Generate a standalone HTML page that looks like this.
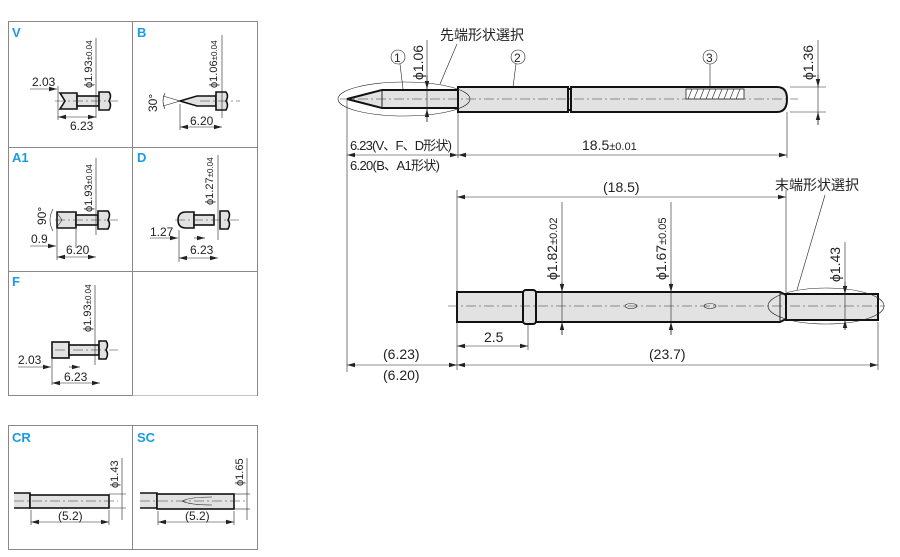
<!DOCTYPE html>
<html><head><meta charset="utf-8"><style>
body{margin:0;background:#fff}
svg{display:block;font-family:"Liberation Sans Narrow","Liberation Sans","Noto Sans CJK JP",sans-serif}
.l{stroke:#222;stroke-width:1;fill:none}
.t{stroke:#222;stroke-width:.6;fill:none}
.p{fill:#e2e2e2;stroke:#111;stroke-width:1.6}
.q{fill:#e2e2e2;stroke:#111;stroke-width:2}
.c{stroke:#333;stroke-width:.6;stroke-dasharray:10 3 2 3;fill:none}
text{fill:#222}
.h{fill:#1a9be0;font-weight:bold;font-size:13px;font-family:"Liberation Sans",sans-serif}
</style></head><body>
<svg width="900" height="557" viewBox="0 0 900 557" xmlns="http://www.w3.org/2000/svg">
<defs><marker id="a" markerWidth="8" markerHeight="6" refX="8" refY="3" orient="auto-start-reverse" markerUnits="userSpaceOnUse"><path d="M0,0.8L8,3L0,5.2z" fill="#222"/></marker></defs>
<g stroke="#888" fill="none" stroke-width="1">
<rect x="8.5" y="21.5" width="249" height="374"/>
<line x1="132.5" y1="21" x2="132.5" y2="272"/>
<line x1="8" y1="147.5" x2="257" y2="147.5"/>
<line x1="8" y1="271.5" x2="257" y2="271.5"/>
<line x1="132.5" y1="272" x2="132.5" y2="396"/>
<rect x="8.5" y="425.5" width="249" height="124"/>
<line x1="132.5" y1="425" x2="132.5" y2="550"/>
</g>
<g fill="#fff" stroke="none"><rect x="133" y="272.5" width="124" height="123"/></g>
<text class="h" x="12" y="37">V</text><text class="h" x="137" y="37">B</text>
<text class="h" x="12" y="162">A1</text><text class="h" x="137" y="162">D</text>
<text class="h" x="12" y="286">F</text>
<text class="h" x="12" y="442">CR</text><text class="h" x="137" y="442">SC</text>

<g>
<path class="p" d="M60,93 L77,93 L77,109 L60,109 L65,101 Z"/>
<rect class="p" x="77" y="96" width="22" height="10"/>
<path class="p" d="M99,92 h10 q3,4 0,9 q3,4 0,9 h-10z"/>
<line class="c" x1="55" y1="101" x2="118" y2="101"/>
<line class="t" x1="96" y1="38" x2="96" y2="118"/>
<line class="t" x1="30" y1="89" x2="57" y2="89" marker-end="url(#a)"/>
<line class="t" x1="58" y1="86" x2="58" y2="120"/>
<line class="t" x1="58" y1="117" x2="96" y2="117" marker-start="url(#a)" marker-end="url(#a)"/>
<text x="32" y="86" font-size="12">2.03</text>
<text x="70" y="130" font-size="12">6.23</text>
<text font-size="11" transform="translate(92,88) rotate(-90)">ϕ1.93<tspan font-size="8">±0.04</tspan></text>
</g>
<g>
<path class="p" d="M180,101 L197,96 L216,96 L216,106 L197,106 Z"/>
<path class="p" d="M216,92 h10 q3,4 0,9 q3,4 0,9 h-10z"/>
<line class="c" x1="200" y1="101" x2="240" y2="101"/>
<line class="t" x1="222" y1="35" x2="222" y2="118"/>
<path class="t" d="M163,96 L180,101 L163,106 M165,93 q-4,8 0,16"/>
<line class="t" x1="180" y1="104" x2="180" y2="130"/>
<line class="t" x1="180" y1="127" x2="222" y2="127" marker-start="url(#a)" marker-end="url(#a)"/>
<text x="190" y="125" font-size="12">6.20</text>
<text font-size="12" transform="translate(157,112) rotate(-90)">30°</text>
<text font-size="11" transform="translate(217,88) rotate(-90)">ϕ1.06<tspan font-size="8">±0.04</tspan></text>
</g>
<g>
<path class="p" d="M57,212 L76,212 L76,228 L57,228 Z"/>
<rect class="p" x="76" y="215" width="22" height="10"/>
<path class="p" d="M98,211 h10 q3,4 0,9 q3,4 0,9 h-10z"/>
<path class="t" d="M57,213 L62,220 L57,227 M53,209 q-6,11 0,22"/>
<line class="c" x1="55" y1="220" x2="118" y2="220"/>
<line class="t" x1="96" y1="158" x2="96" y2="235"/>
<line class="t" x1="30" y1="246" x2="56" y2="246" marker-end="url(#a)"/>
<line class="t" x1="57" y1="229" x2="57" y2="260"/>
<line class="t" x1="76" y1="229" x2="76" y2="248"/>
<line class="t" x1="57" y1="257" x2="96" y2="257" marker-start="url(#a)" marker-end="url(#a)"/>
<text x="31" y="243" font-size="12">0.9</text>
<text x="66" y="254" font-size="12">6.20</text>
<text font-size="12" transform="translate(46,225) rotate(-90)">90°</text>
<text font-size="11" transform="translate(92,212) rotate(-90)">ϕ1.93<tspan font-size="8">±0.04</tspan></text>
</g>
<g>
<path class="p" d="M186,212 L194,212 L194,228 L186,228 Q178,228 178,220 Q178,212 186,212Z"/>
<rect class="p" x="194" y="215" width="20" height="10"/>
<path class="p" d="M220,211 h8 q3,4 0,9 q3,4 0,9 h-8z"/>
<line class="c" x1="175" y1="220" x2="240" y2="220"/>
<line class="t" x1="218" y1="155" x2="218" y2="240"/>
<line class="t" x1="150" y1="238" x2="178" y2="238" marker-end="url(#a)"/>
<line class="t" x1="179" y1="230" x2="179" y2="262"/>
<line class="t" x1="194" y1="238" x2="205" y2="238" marker-end="url(#a)"/>
<line class="t" x1="179" y1="258" x2="218" y2="258" marker-start="url(#a)" marker-end="url(#a)"/>
<text x="150" y="236" font-size="12">1.27</text>
<text x="190" y="254" font-size="12">6.23</text>
<text font-size="11" transform="translate(213,205) rotate(-90)">ϕ1.27<tspan font-size="8">±0.04</tspan></text>
</g>
<g>
<rect class="p" x="52" y="342" width="17" height="16"/>
<rect class="p" x="69" y="345" width="30" height="10"/>
<path class="p" d="M99,341 h7 q3,4 0,9 q3,4 0,9 h-7z"/>
<line class="c" x1="55" y1="350" x2="118" y2="350"/>
<line class="t" x1="95" y1="285" x2="95" y2="365"/>
<line class="t" x1="18" y1="367" x2="51" y2="367" marker-end="url(#a)"/>
<line class="t" x1="52" y1="359" x2="52" y2="385"/>
<line class="t" x1="69" y1="367" x2="80" y2="367" marker-end="url(#a)"/>
<line class="t" x1="52" y1="383" x2="100" y2="383" marker-start="url(#a)" marker-end="url(#a)"/>
<text x="18" y="364" font-size="12">2.03</text>
<text x="64" y="381" font-size="12">6.23</text>
<text font-size="11" transform="translate(91,332) rotate(-90)">ϕ1.93<tspan font-size="8">±0.04</tspan></text>
</g>
<g>
<path class="p" d="M14,493 h16 v15 h-16"/>
<rect class="p" x="30" y="495" width="79" height="13"/>
<line class="c" x1="14" y1="501" x2="118" y2="501"/>
<line class="t" x1="122" y1="458" x2="122" y2="520"/>
<line class="t" x1="109" y1="494" x2="126" y2="494"/><line class="t" x1="109" y1="508" x2="126" y2="508"/>
<line class="t" x1="31" y1="510" x2="31" y2="525"/><line class="t" x1="109" y1="510" x2="109" y2="525"/>
<line class="t" x1="31" y1="522" x2="109" y2="522" marker-start="url(#a)" marker-end="url(#a)"/>
<text x="58" y="520" font-size="12">(5.2)</text>
<text font-size="11" transform="translate(118,488) rotate(-90)">ϕ1.43</text>
</g>
<g>
<path class="p" d="M140,493 h17 v15 h-17"/>
<rect class="p" x="157" y="494" width="77" height="15"/>
<path class="t" d="M182,501 Q190,497 212,497 M182,501 Q190,505 212,505"/>
<line class="c" x1="140" y1="501" x2="245" y2="501"/>
<line class="t" x1="247" y1="458" x2="247" y2="520"/>
<line class="t" x1="234" y1="494" x2="250" y2="494"/><line class="t" x1="234" y1="509" x2="250" y2="509"/>
<line class="t" x1="158" y1="511" x2="158" y2="525"/><line class="t" x1="234" y1="511" x2="234" y2="525"/>
<line class="t" x1="158" y1="522" x2="234" y2="522" marker-start="url(#a)" marker-end="url(#a)"/>
<text x="185" y="520" font-size="12">(5.2)</text>
<text font-size="11" transform="translate(243,486) rotate(-90)">ϕ1.65</text>
</g>

<g>
<path class="q" d="M347,99 L382,90 L458,90 L458,108 L382,108 Z"/>
<line class="l" x1="382" y1="90" x2="382" y2="108"/>
<rect class="q" x="458" y="87" width="110" height="25"/>
<rect class="q" x="568" y="89" width="3" height="21"/>
<path class="q" d="M571,87 L777,87 Q787,87 787,99 Q787,112 777,112 L571,112 Z"/>
<rect x="686" y="89" width="58" height="10" fill="#fff" stroke="#222" stroke-width=".8"/>
<path class="t" d="M688,99 l4,-10 M694,99 l4,-10 M700,99 l4,-10 M706,99 l4,-10 M712,99 l4,-10 M718,99 l4,-10 M724,99 l4,-10 M730,99 l4,-10 M736,99 l4,-10" stroke-width="1"/>
<line class="c" x1="340" y1="99" x2="798" y2="99"/>
<ellipse class="t" cx="404" cy="99" rx="66" ry="17"/>
<line class="t" x1="427" y1="40" x2="427" y2="122"/>
<line class="t" x1="427" y1="75" x2="427" y2="89" marker-end="url(#a)"/>
<line class="t" x1="427" y1="122" x2="427" y2="109" marker-end="url(#a)"/>
<text font-size="14" transform="translate(423,80) rotate(-90)">ϕ1.06</text>
<text x="440" y="40" font-size="14">先端形状選択</text>
<line class="t" x1="457" y1="44" x2="440" y2="84"/>
<circle class="t" cx="398" cy="57" r="7"/><text x="394" y="62" font-size="12">1</text>
<line class="t" x1="400" y1="64" x2="403" y2="89"/>
<circle class="t" cx="518" cy="57" r="7"/><text x="514" y="62" font-size="12">2</text>
<line class="t" x1="516" y1="64" x2="513" y2="87"/>
<circle class="t" cx="710" cy="57" r="7"/><text x="706" y="62" font-size="12">3</text>
<line class="t" x1="710" y1="64" x2="710" y2="88"/>
<line class="t" x1="790" y1="87" x2="826" y2="87"/><line class="t" x1="790" y1="112" x2="826" y2="112"/>
<line class="t" x1="818" y1="40" x2="818" y2="125"/>
<line class="t" x1="818" y1="75" x2="818" y2="87" marker-end="url(#a)"/>
<line class="t" x1="818" y1="125" x2="818" y2="112" marker-end="url(#a)"/>
<text font-size="14" transform="translate(813,80) rotate(-90)">ϕ1.36</text>
<line class="t" x1="347" y1="100" x2="347" y2="372"/>
<line class="t" x1="458" y1="112" x2="458" y2="158"/>
<line class="t" x1="787" y1="112" x2="787" y2="158"/>
<line class="t" x1="347" y1="155" x2="458" y2="155" marker-start="url(#a)" marker-end="url(#a)"/>
<line class="t" x1="458" y1="155" x2="787" y2="155" marker-start="url(#a)" marker-end="url(#a)"/>
<text x="350" y="150" font-size="13" textLength="102">6.23(V、F、D形状)</text>
<text x="350" y="170" font-size="13" textLength="90">6.20(B、A1形状)</text>
<text x="582" y="150" font-size="14">18.5<tspan font-size="11">±0.01</tspan></text>
</g>

<g>
<rect class="q" x="457" y="292" width="66" height="30"/>
<rect class="q" x="523" y="290" width="13" height="34" rx="3"/>
<path class="q" d="M536,292 L780,292 L786,295 L786,319 L780,322 L536,322 Z"/>
<rect class="q" x="786" y="294" width="92" height="26"/>
<line class="l" x1="780" y1="292" x2="780" y2="322"/>
<ellipse class="t" cx="631" cy="306" rx="6" ry="2.5" fill="#fff" stroke-width="1.2"/>
<ellipse class="t" cx="710" cy="306" rx="6" ry="2.5" fill="#fff" stroke-width="1.2"/>
<line class="c" x1="448" y1="306" x2="885" y2="306"/>
<ellipse class="t" cx="826" cy="306" rx="58" ry="18"/>
<line class="t" x1="457" y1="190" x2="457" y2="370"/>
<line class="t" x1="786" y1="190" x2="786" y2="292"/>
<line class="t" x1="878" y1="322" x2="878" y2="370"/>
<line class="t" x1="528" y1="325" x2="528" y2="350"/>
<line class="t" x1="457" y1="197" x2="786" y2="197" marker-start="url(#a)" marker-end="url(#a)"/>
<text x="603" y="192" font-size="14">(18.5)</text>
<line class="t" x1="457" y1="346" x2="528" y2="346" marker-start="url(#a)" marker-end="url(#a)"/>
<text x="484" y="342" font-size="14">2.5</text>
<line class="t" x1="457" y1="365" x2="878" y2="365" marker-start="url(#a)" marker-end="url(#a)"/>
<text x="649" y="359" font-size="14">(23.7)</text>
<line class="t" x1="347" y1="365" x2="457" y2="365" marker-start="url(#a)" marker-end="url(#a)"/>
<text x="383" y="359" font-size="14">(6.23)</text>
<text x="383" y="380" font-size="14">(6.20)</text>
<line class="t" x1="562" y1="202" x2="562" y2="335"/>
<line class="t" x1="562" y1="282" x2="562" y2="292" marker-end="url(#a)"/>
<line class="t" x1="562" y1="335" x2="562" y2="322" marker-end="url(#a)"/>
<text font-size="14" transform="translate(557,280) rotate(-90)">ϕ1.82<tspan font-size="11">±0.02</tspan></text>
<line class="t" x1="671" y1="202" x2="671" y2="335"/>
<line class="t" x1="671" y1="282" x2="671" y2="292" marker-end="url(#a)"/>
<line class="t" x1="671" y1="335" x2="671" y2="322" marker-end="url(#a)"/>
<text font-size="14" transform="translate(666,280) rotate(-90)">ϕ1.67<tspan font-size="11">±0.05</tspan></text>
<line class="t" x1="845" y1="242" x2="845" y2="330"/>
<line class="t" x1="845" y1="282" x2="845" y2="294" marker-end="url(#a)"/>
<line class="t" x1="845" y1="330" x2="845" y2="320" marker-end="url(#a)"/>
<text font-size="14" transform="translate(840,282) rotate(-90)">ϕ1.43</text>
<text x="775" y="190" font-size="14">末端形状選択</text>
<line class="t" x1="825" y1="195" x2="797" y2="290"/>
</g>
</svg>
</body></html>
